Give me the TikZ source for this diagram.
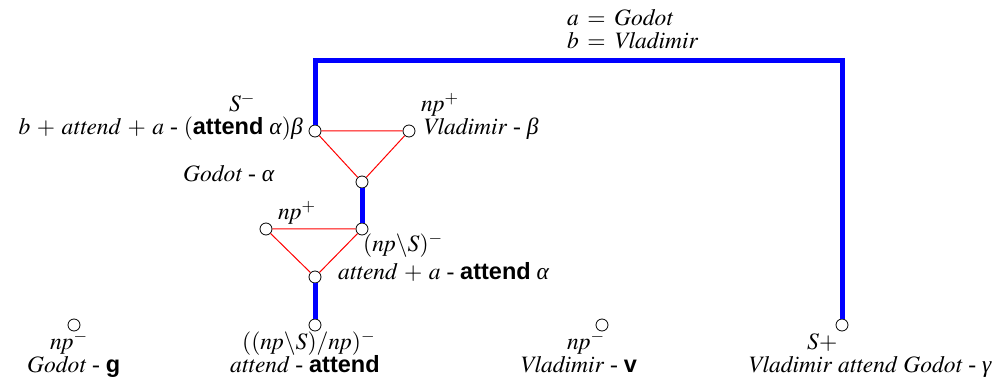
\documentclass[tikz,border=0pt]{standalone}
\usepackage{mathptmx}
\usepackage[no-math]{fontspec}
\setmainfont{Liberation Serif}
\setsansfont{Liberation Sans}
\newcommand{\bsf}[1]{\textsf{\bfseries #1}}
\newcommand{\gal}{\textit{α}}
\newcommand{\gbe}{\textit{β}}
\newcommand{\gga}{\textit{γ}}
\begin{document}
\begin{tikzpicture}[x=1pt,y=-1pt,font=\fontsize{23.5}{26}\selectfont,
  dot/.style={circle,draw=black,fill=white,inner sep=0pt,minimum size=12pt,line width=0.8pt},
  blueline/.style={draw=blue,line width=5pt},
  redline/.style={draw=red,line width=1pt},
  lbl/.style={inner sep=0pt,anchor=base west},
  lble/.style={inner sep=0pt,anchor=base east},
  lblc/.style={inner sep=0pt,anchor=base}]
\useasboundingbox (0,0) rectangle (1005,387);
% nodes
\node[dot] (A) at (315,131) {};
\node[dot] (B) at (409,131) {};
\node[dot] (C) at (362,182) {};
\node[dot] (D) at (362,229) {};
\node[dot] (E) at (266,229) {};
\node[dot] (F) at (315,277) {};
\node[dot] (G) at (315,325) {};
\node[dot] (H) at (74,325) {};
\node[dot] (I) at (602,325) {};
\node[dot] (J) at (842,325) {};
\coordinate (tl) at (315,61);
\coordinate (tr) at (842,61);
% connectors
\draw[blueline] (A) -- (tl) -- (tr) -- (J);
\draw[blueline] (C) -- (D);
\draw[blueline] (F) -- (G);
\draw[redline] (A) -- (B) -- (C) -- (A);
\draw[redline] (E) -- (D) -- (F) -- (E);
% labels
\node[lbl] (t1) at (567,26) {$a \:=\: \mathit{Godot}$};
\node[lbl] (t2) at (567,49) {$b \:=\: \mathit{Vladimir}$};
\node[lblc] (lA1) at (242,112) {$S^-$};
\node[lble] (lA2) at (303,135) {$b \:+\: \mathit{attend} \:+\: a$ - $($\bsf{attend} \gal$)$\gbe};
\node[lbl] (lB1) at (421,112) {$\mathit{np}^+$};
\node[lbl] (lB2) at (423,135) {$\mathit{Vladimir}$ - \gbe};
\node[lbl] (lC) at (183,182) {$\mathit{Godot}$ - \gal};
\node[lbl] (lE) at (278,220) {$\mathit{np}^+$};
\node[lbl] (lD1) at (363,252) {$(\mathit{np}\backslash S)^-$};
\node[lbl] (lD2) at (338,280) {$\mathit{attend} \:+\: a$ - \bsf{attend} \gal};
\node[lbl] (lH1) at (50,350) {$\mathit{np}^-$};
\node[lbl] (lH2) at (27,373) {$\mathit{Godot}$ - \bsf{g}};
\node[lbl] (lG1) at (242,350) {$((\mathit{np}\backslash S)/\mathit{np})^-$};
\node[lbl] (lG2) at (230,373) {$\mathit{attend}$ - \bsf{attend}};
\node[lbl] (lI1) at (567,350) {$\mathit{np}^-$};
\node[lbl] (lI2) at (520,373) {$\mathit{Vladimir}$ - \bsf{v}};
\node[lbl] (lJ1) at (807,350) {$S{+}$};
\node[lbl] (lJ2) at (748,373) {$\mathit{Vladimir}\ \mathit{attend}\ \mathit{Godot}$ - \gga};
\end{tikzpicture}
\end{document}
